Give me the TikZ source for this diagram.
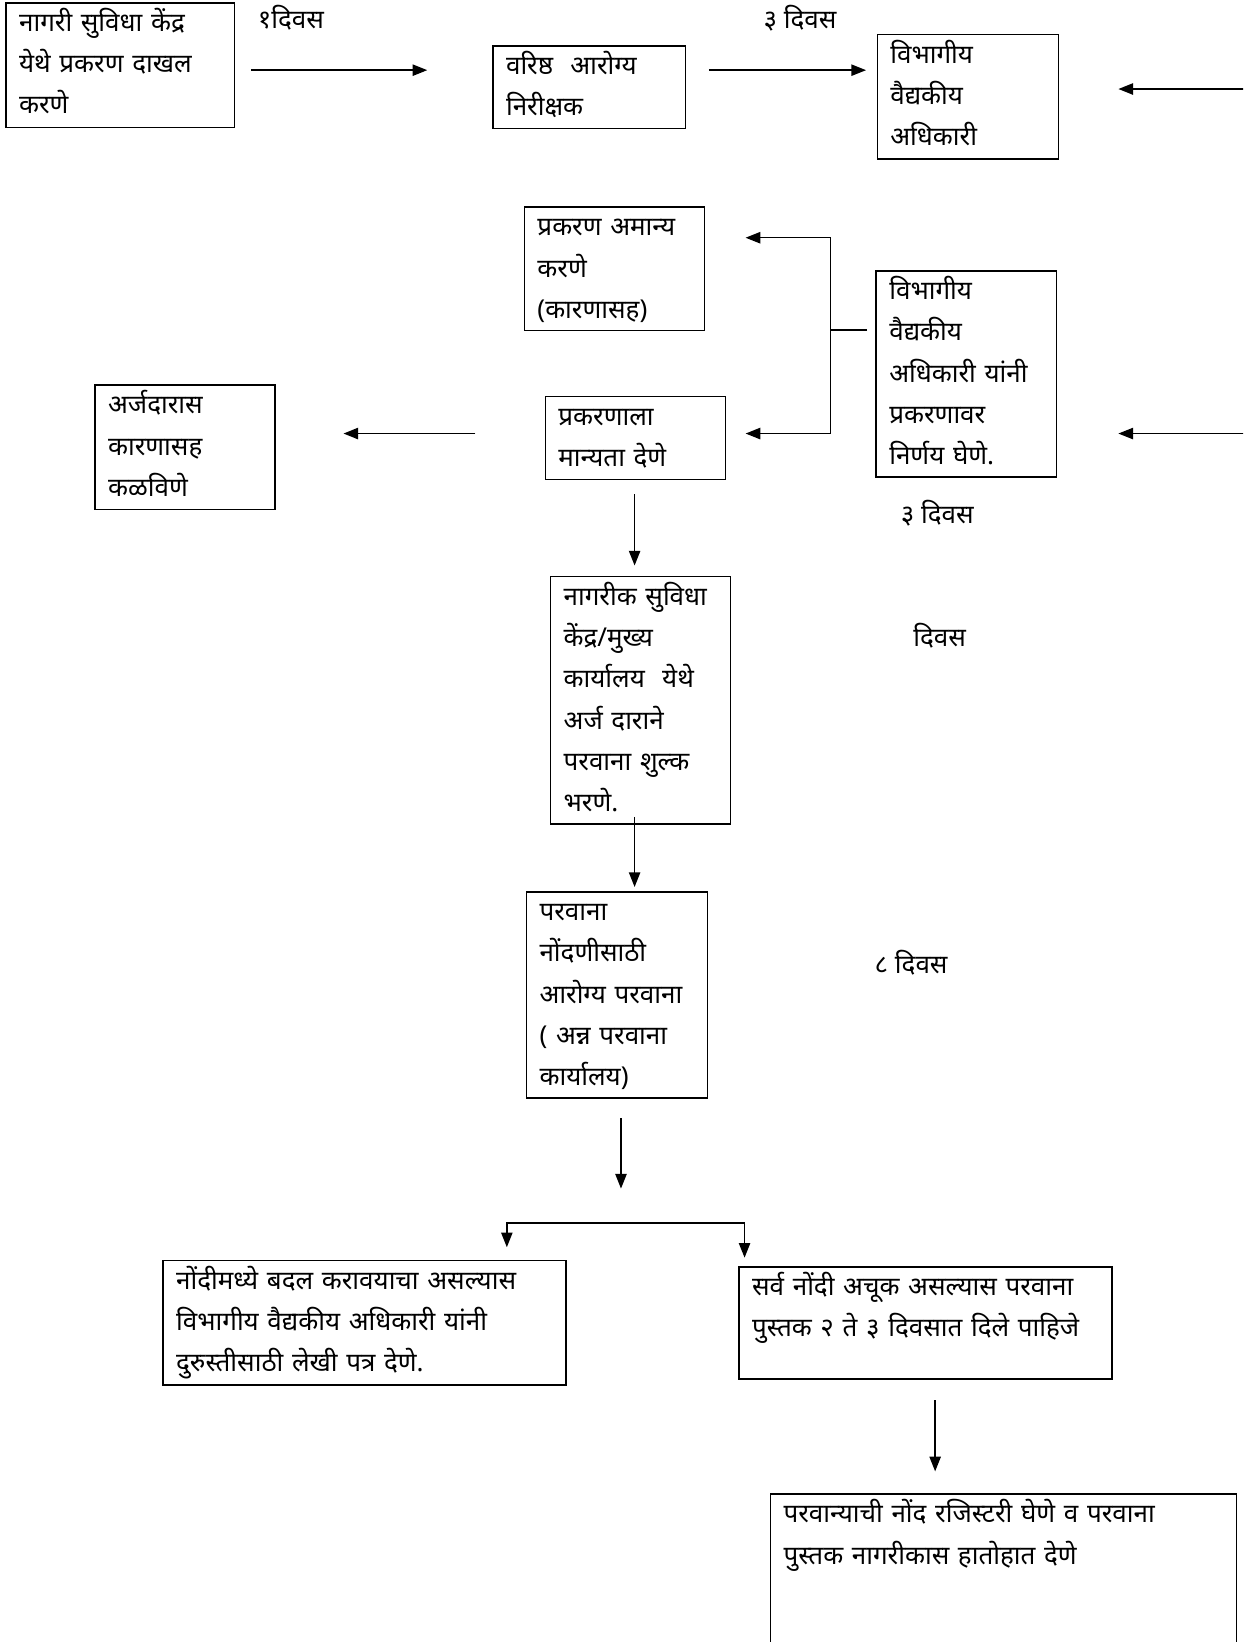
\documentclass[tikz,border=0pt]{standalone}
\usepackage{fontspec}
\newfontfamily\dev[Script=Devanagari]{Noto Sans}
\usetikzlibrary{arrows.meta}
\newcommand\dfont{\dev\fontsize{19.5pt}{30.87pt}\selectfont}
\newcommand\ml[1]{\mbox{#1}}
\begin{document}
\begin{tikzpicture}[x=0.7854pt, y=-0.7854pt,
  box/.style={draw, line width=1.15pt, anchor=north west, inner xsep=9.82pt, inner ysep=0pt, align=left, font=\dfont},
  wh/.style 2 args={text width={(#1-25)*0.7854pt}, text height={27.5*0.7854pt}, text depth={(#2-27.5)*0.7854pt}},
  lbl/.style={anchor=base west, inner sep=0pt, font=\dfont},
  arr/.style={line width=1.1pt, -{Triangle[length=11pt,width=8.5pt]}},
  arrs/.style={line width=1.1pt, {Triangle[length=11pt,width=8.5pt]}-{Triangle[length=11pt,width=8.5pt]}},
  ln/.style={line width=1.1pt}]
\useasboundingbox (0,0) rectangle (1187,1568);
\clip (0,0) rectangle (1187,1568);

% boxes
\node[box, wh={218}{119}] (b1) at (5,2) {\ml{नागरी सुविधा केंद्र}\\\ml{येथे प्रकरण दाखल}\\\ml{करणे}};
\node[box, wh={184}{79}] (b2) at (470,43) {\ml{वरिष्ठ\ \ आरोग्य}\\\ml{निरीक्षक}};
\node[box, wh={173}{119}] (b3) at (837,32) {\ml{विभागीय}\\\ml{वैद्यकीय}\\\ml{अधिकारी}};
\node[box, wh={172}{118}] (b4) at (500,197) {\ml{प्रकरण अमान्य}\\\ml{करणे}\\\ml{(कारणासह)}};
\node[box, wh={172}{197}] (b5) at (836,258) {\ml{विभागीय}\\\ml{वैद्यकीय}\\\ml{अधिकारी यांनी}\\\ml{प्रकरणावर}\\\ml{निर्णय घेणे.}};
\node[box, wh={172}{119}] (b6) at (90,367) {\ml{अर्जदारास}\\\ml{कारणासह}\\\ml{कळविणे}};
\node[box, wh={172}{79}] (b7) at (520,378) {\ml{प्रकरणाला}\\\ml{मान्यता देणे}};
\node[box, wh={172}{236}] (b8) at (525,550) {\ml{नागरीक सुविधा}\\\ml{केंद्र/मुख्य}\\\ml{कार्यालय\ \ येथे}\\\ml{अर्ज दाराने}\\\ml{परवाना शुल्क}\\\ml{भरणे.}};
\node[box, wh={173}{197}] (b9) at (502,851) {\ml{परवाना}\\\ml{नोंदणीसाठी}\\\ml{आरोग्य परवाना}\\\ml{( अन्न परवाना}\\\ml{कार्यालय)}};
\node[box, wh={385}{119}] (b10) at (155,1203) {\ml{नोंदीमध्ये बदल करावयाचा असल्यास}\\\ml{विभागीय वैद्यकीय अधिकारी यांनी}\\\ml{दुरुस्तीसाठी लेखी पत्र देणे.}};
\node[box, wh={356}{107}] (b11) at (705,1209) {\ml{सर्व नोंदी अचूक असल्यास परवाना}\\\ml{पुस्तक २ ते ३ दिवसात दिले पाहिजे}};
\node[box, wh={445}{165}] (b12) at (735,1426) {\ml{परवान्याची नोंद रजिस्टरी घेणे व परवाना}\\\ml{पुस्तक नागरीकास हातोहात देणे}};

% day labels
\node[lbl] (d1) at (246,27) {१दिवस};
\node[lbl] (d2) at (729,27) {३ दिवस};
\node[lbl] (d3) at (860,500) {३ दिवस};
\node[lbl] (d4) at (872,617) {दिवस};
\node[lbl] (d5) at (835,930) {८ दिवस};

% connector end points
\coordinate (a1s) at (240,67);   \coordinate (a1e) at (408,67);
\coordinate (a2s) at (677,67);   \coordinate (a2e) at (827,67);
\coordinate (a3s) at (1190,85);  \coordinate (a3e) at (1068,85);
\coordinate (a4s) at (1190,414); \coordinate (a4e) at (1068,414);
\coordinate (bj) at (828,315);   \coordinate (bm) at (793,315);
\coordinate (bt) at (793,227);   \coordinate (bb) at (793,414);
\coordinate (rejt) at (712,227); \coordinate (appt) at (712,414);
\coordinate (a5s) at (454,414);  \coordinate (a5e) at (328,414);
\coordinate (a6s) at (606,472);  \coordinate (a6e) at (606,540);
\coordinate (a7s) at (606,780);  \coordinate (a7e) at (606,847);
\coordinate (a8s) at (593,1068); \coordinate (a8e) at (593,1135);
\coordinate (hl) at (484,1168);  \coordinate (hr) at (711,1168);
\coordinate (sl) at (484,1191);  \coordinate (sr) at (711,1201);
\coordinate (a9s) at (893,1337); \coordinate (a9e) at (893,1405);

% connectors
\draw[arr] (a1s) -- (a1e);
\draw[arr] (a2s) -- (a2e);
\draw[arr] (a3s) -- (a3e);
\draw[arr] (a4s) -- (a4e);
\draw[ln] (bj) -- (bm);
\draw[arrs] (rejt) -- (bt) -- (bb) -- (appt);
\draw[arr] (a5s) -- (a5e);
\draw[arr] (a6s) -- (a6e);
\draw[arr] (a7s) -- (a7e);
\draw[arr] (a8s) -- (a8e);
\draw[arrs] (sl) -- (hl) -- (hr) -- (sr);
\draw[arr] (a9s) -- (a9e);
\end{tikzpicture}
\end{document}
